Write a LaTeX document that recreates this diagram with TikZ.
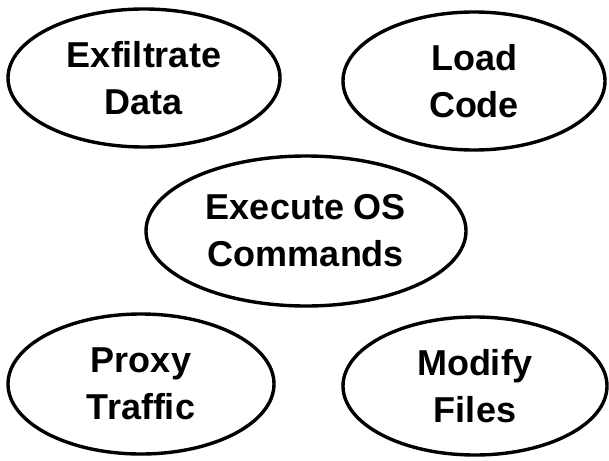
\documentclass[tikz,border=0pt]{standalone}
\usepackage{fontspec}
\setmainfont{Liberation Sans}
\usetikzlibrary{shapes.geometric}
\begin{document}
\begin{tikzpicture}[x=1pt,y=-1pt,
  oval/.style n args={2}{ellipse,draw=black,line width=3.4pt,fill=white,
    minimum width=#1pt,minimum height=#2pt,inner sep=0pt,
    font=\fontsize{36}{47}\selectfont\bfseries,align=center}]
\useasboundingbox[fill=white] (0,0) rectangle (609,460);
\node[oval={272}{138}] (exfil) at (144,78) {Exfiltrate\\Data};
\node[oval={262}{138}] (load) at (474,81) {Load\\Code};
\node[oval={320}{150}] (exec) at (306,231) {Execute OS\\Commands};
\node[oval={266}{140}] (proxy) at (141,384) {Proxy\\Traffic};
\node[oval={264}{138}] (modify) at (475,386) {Modify\\Files};
\end{tikzpicture}
\end{document}
